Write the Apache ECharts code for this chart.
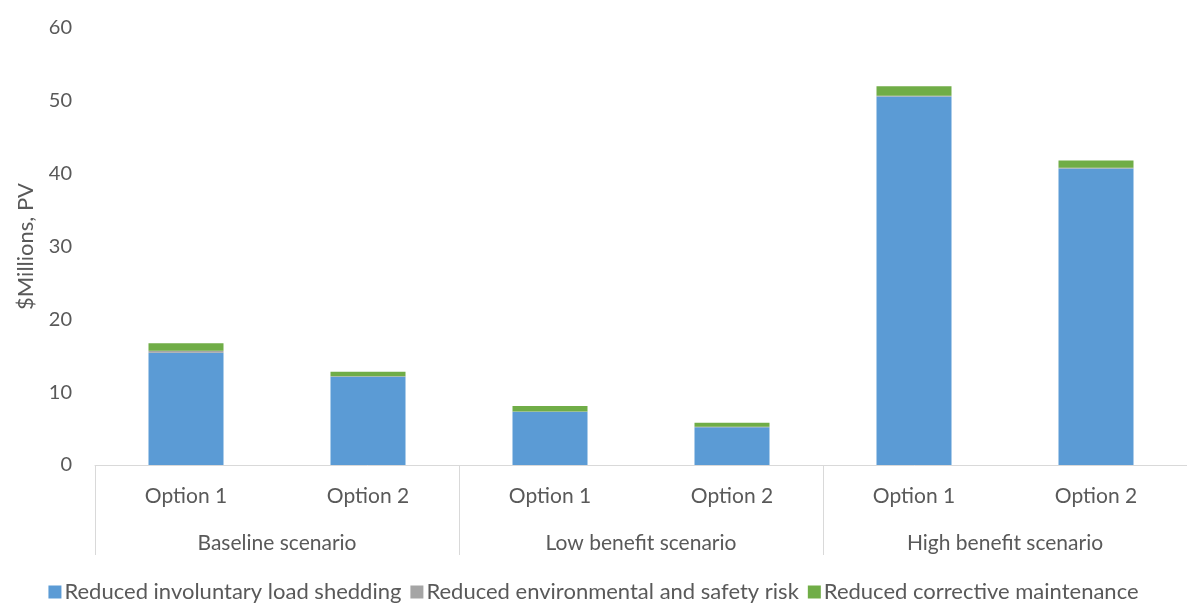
<!DOCTYPE html>
<html>
<head>
<meta charset="utf-8">
<script src="https://cdn.jsdelivr.net/npm/echarts@6/dist/echarts.min.js"></script>
<style>
  html, body { margin: 0; padding: 0; background: #fff; }
  #chart { width: 1187px; height: 603px; }
</style>
</head>
<body>
<div id="chart"></div>
<script>
// Benefit components by scenario and option ($Millions, PV)
const options = ['Option 1', 'Option 2', 'Option 1', 'Option 2', 'Option 1', 'Option 2'];
const scenarios = ['Baseline scenario', 'Low benefit scenario', 'High benefit scenario'];
const loadShedding = [15.4, 12.1, 7.3, 5.2, 50.6, 40.7];
const envSafety = [0.3, 0.1, 0.05, 0.05, 0.1, 0.1];
const correctiveMaint = [1.0, 0.6, 0.75, 0.55, 1.3, 1.0];
const yTicks = { min: 0, max: 60, interval: 10 };

const textColor = '#595959';
const fontFamily = 'Lato, "Open Sans", sans-serif';

const chart = echarts.init(document.getElementById('chart'));
chart.setOption({
  animation: false,
  textStyle: { fontFamily: fontFamily, color: textColor },
  grid: { left: 95, right: -10, top: 28, bottom: 138 },
  legend: {
    top: 581,
    left: 'center',
    padding: [0, 0, 0, 0],
    itemWidth: 13,
    itemHeight: 13,
    itemGap: 9,
    icon: 'rect',
    textStyle: { fontSize: 22, color: textColor, fontFamily: fontFamily, padding: [0, 0, 0, -2] },
    data: ['Reduced involuntary load shedding', 'Reduced environmental and safety risk', 'Reduced corrective maintenance']
  },
  xAxis: [
    {
      type: 'category',
      data: options,
      position: 'bottom',
      axisLine: { lineStyle: { color: '#d9d9d9', width: 1 } },
      axisTick: { show: false },
      axisLabel: { fontSize: 21, color: textColor, margin: 21, interval: 0 }
    },
    {
      type: 'category',
      data: scenarios,
      position: 'bottom',
      axisLine: { show: false },
      axisTick: { show: true, length: 90, interval: 0, lineStyle: { color: '#d9d9d9' } },
      axisLabel: { fontSize: 21, color: textColor, margin: 68, interval: 0 },
      splitLine: { show: false }
    }
  ],
  yAxis: {
    type: 'value',
    min: yTicks.min,
    max: yTicks.max,
    interval: yTicks.interval,
    name: '$Millions, PV',
    nameLocation: 'middle',
    nameGap: 58,
    nameRotate: 90,
    nameTextStyle: { fontSize: 22, color: textColor },
    axisLine: { show: false },
    axisTick: { show: false },
    splitLine: { show: false },
    axisLabel: { fontSize: 20, color: textColor, margin: 23 }
  },
  series: [
    {
      name: 'Reduced involuntary load shedding',
      type: 'bar',
      stack: 'total',
      xAxisIndex: 0,
      barWidth: 75,
      itemStyle: { color: '#5B9BD5' },
      data: loadShedding
    },
    {
      name: 'Reduced environmental and safety risk',
      type: 'bar',
      stack: 'total',
      xAxisIndex: 0,
      itemStyle: { color: '#A5A5A5' },
      data: envSafety
    },
    {
      name: 'Reduced corrective maintenance',
      type: 'bar',
      stack: 'total',
      xAxisIndex: 0,
      itemStyle: { color: '#70AD47' },
      data: correctiveMaint
    }
  ]
});
</script>
</body>
</html>
